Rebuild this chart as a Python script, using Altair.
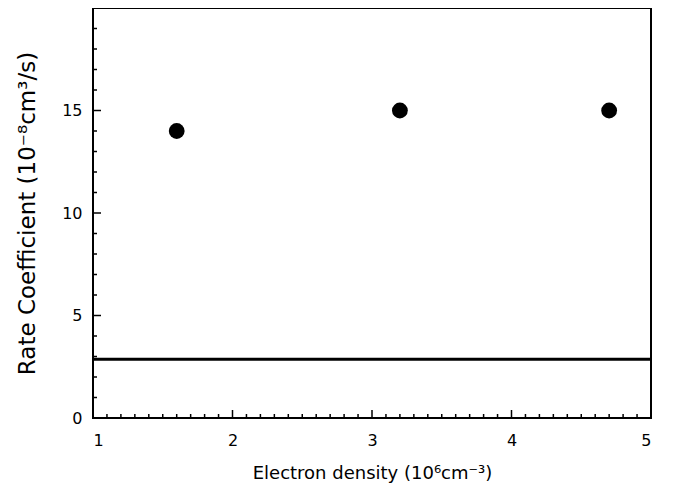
import altair as alt
import pandas as pd

# data
density = [1.6, 3.2, 4.7]
rate = [14, 15, 15]
theory_rate = [2.87]

x_major = [1, 2, 3, 4, 5]
x_minor = [1.1, 1.2, 1.3, 1.4, 1.5, 1.6, 1.7, 1.8, 1.9,
           2.1, 2.2, 2.3, 2.4, 2.5, 2.6, 2.7, 2.8, 2.9,
           3.1, 3.2, 3.3, 3.4, 3.5, 3.6, 3.7, 3.8, 3.9,
           4.1, 4.2, 4.3, 4.4, 4.5, 4.6, 4.7, 4.8, 4.9]
y_major = [0, 5, 10, 15]
y_minor = [1, 2, 3, 4, 6, 7, 8, 9, 11, 12, 13, 14, 16, 17, 18, 19]

W, H = 558, 410
FONT = "DejaVu Sans"
XT = "Electron density (10⁶cm⁻³)"
YT = "Rate Coefficient (10⁻⁸cm³/s)"

common = dict(ticks=False, domain=False, grid=False,
              labelFont=FONT, titleFont=FONT, labelFontSize=16,
              titleFontWeight="normal", labelColor="black", titleColor="black")

xs = alt.Scale(domain=[1, 5], nice=False, zero=False)
ys = alt.Scale(domain=[0, 20], nice=False, zero=False)
xa = alt.Axis(values=x_major, labelPadding=14, title=XT, titlePadding=16,
              titleFontSize=18, **common)
ya = alt.Axis(values=y_major, labelPadding=11, title=YT, titlePadding=22,
              titleFontSize=23, **common)

pts_df = pd.DataFrame({"x": density, "y": rate})
line_df = pd.DataFrame({"y": theory_rate})

points = alt.Chart(pts_df).mark_circle(size=250, color="black", opacity=1).encode(
    x=alt.X("x:Q", scale=xs, axis=xa, title=XT),
    y=alt.Y("y:Q", scale=ys, axis=ya, title=YT),
)

hline = alt.Chart(line_df).mark_rule(color="black", strokeWidth=3).encode(
    y=alt.Y("y:Q", scale=ys, axis=ya, title=YT)
)

def xticks(vals, L):
    return alt.Chart(pd.DataFrame({"t": vals})).mark_rule(color="black", strokeWidth=1.5).encode(
        x=alt.X("t:Q", scale=xs, axis=xa, title=XT),
        y=alt.value(H), y2=alt.value(H - L))

def yticks(vals, L):
    return alt.Chart(pd.DataFrame({"t": vals})).mark_rule(color="black", strokeWidth=1.5).encode(
        y=alt.Y("t:Q", scale=ys, axis=ya, title=YT),
        x=alt.value(0), x2=alt.value(L))

chart = alt.layer(
    points, hline,
    xticks(x_major, 8), xticks(x_minor, 4),
    yticks(y_major, 8), yticks(y_minor, 4),
).properties(
    width=W, height=H,
    padding={"left": 85, "top": 0, "right": 10, "bottom": 70},
    autosize=alt.AutoSizeParams(type="none"),
).configure_view(
    stroke="black", strokeWidth=2
)

chart.save("out.html", embed_options={"renderer": "svg", "actions": False})
